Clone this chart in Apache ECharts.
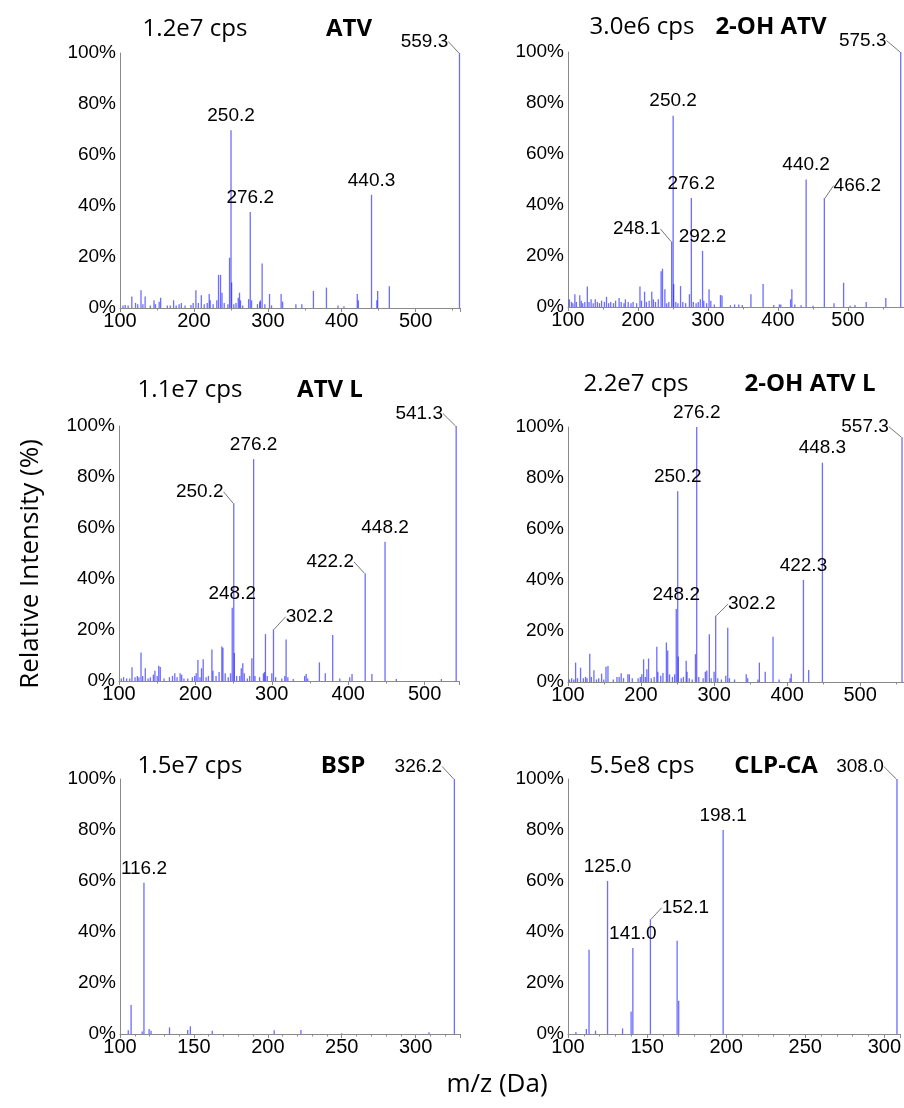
<!DOCTYPE html>
<html>
<head>
<meta charset="utf-8">
<script src="https://cdn.jsdelivr.net/npm/echarts@6/dist/echarts.min.js"></script>
<style>
  html, body { margin: 0; padding: 0; background: #fff; }
  #chart { width: 904px; height: 1108px; }
</style>
</head>
<body>
<div id="chart"></div>
<script>
// ====== peak lists [m/z, relative intensity %] ======
const atvPeaks = [[104,1],[107,1.2],[111,1],[116,4.5],[121,2],[124,1.5],[128.4,7],[131,1.5],[134,4.5],[141,1],[146,3],[148,1.5],[153,2.5],[155,4],[164,1],[168,1],[172.5,3],[176,1],[180,1.5],[183,2],[188,1],[196,1.2],[199,2],[202.7,7],[206,2],[210,5],[214,1.5],[218,2],[220.7,5.5],[222,3],[226,1.5],[231,3],[233.3,13],[236,13],[238,6],[241,2],[246,1.5],[248.2,19.7],[250.2,69.7],[251,10],[254,1.5],[257,2],[260,4],[261.7,6],[263,3],[266,1],[274,3.5],[276.2,37.6],[278,3],[286,1.5],[289,2.5],[290,3],[292.3,17.5],[296,1.5],[302.3,5.5],[305,1],[318,5.5],[320,2.5],[338,1.5],[346,1.5],[361.7,6.7],[379.3,8],[395,1],[403,0.7],[421,5.5],[422.5,3],[440.3,44.4],[447.5,3],[448.6,6.7],[464.4,8.5],[559.3,100]];
const ohAtvPeaks = [[102,3],[105,2],[107,1.5],[109.8,5],[112,2],[116.8,4.6],[119,2.5],[121,1.5],[124,2],[127.6,8],[130,2],[133,3],[136,1.5],[139,3],[142,2],[145,1.5],[148,2.5],[152,2],[155,4],[158,1.5],[161,2],[165,1.5],[168,2.5],[173,3.5],[176,2],[180,1.5],[182,3],[186,2],[190,1.5],[193,2],[198,1.5],[202.8,8],[205,2.5],[209.4,6],[212,2],[216,2.5],[219.7,6],[222,3],[225,2],[229,3],[233,14],[235,15],[238.4,7],[241,1.5],[244,2],[248.1,25.7],[250.2,75],[251,9],[254,2],[257,1.5],[260.8,8.2],[264,2],[268,1.5],[273.5,5],[276.2,42.7],[279,2],[283,1.5],[286,2],[289,3],[292.2,22],[294,2.5],[298,1.5],[301.5,7],[304,2.5],[309,1],[317.8,4.7],[320,4.5],[332,0.7],[338,1],[344,1],[349,0.8],[361.3,5],[378.7,9],[394,0.8],[402,1],[404,1],[418,3],[419.8,7],[424,1],[433,0.7],[440.2,50],[450,0.5],[466.2,42.7],[480,1.5],[493.7,9.5],[503,0.5],[510,0.8],[526,2],[554,3.5],[575.3,100]];
const atvLPeaks = [[103,1],[106,1.5],[110,1],[114,1],[117,5.4],[121,1.5],[124,2],[126,1.5],[128.8,11.2],[131,2],[134.4,5],[138,1],[141,1.5],[145,2.5],[147,4],[150,2],[152,6],[154,5.5],[159,1],[166,1.5],[170,2],[173,3],[176,1.5],[180,3],[182,2.5],[185,1],[190,1],[196,1.5],[199,2],[201,3],[203.3,8.2],[206,1.5],[208,5],[210.2,8.5],[214,1.5],[217,2],[221.6,12.4],[223,4],[227,2],[231,3.5],[234.6,13.5],[236,13],[239,3],[243,1.5],[246,3],[248.2,28.7],[250.2,69.7],[251,11],[254,2],[258,2],[260,5],[262,7],[264,3],[268,1],[271,2],[273.9,8.9],[276.2,87],[278,2],[284,1.5],[289,3],[290.5,3.5],[291.7,18.4],[294,2],[300,3],[302.2,20.3],[305,1.5],[313,1],[317,2],[318.7,16.3],[321,1.5],[328,0.8],[343,2],[345,2.7],[347,1],[362.3,7.3],[370,3],[379.7,18],[389,1],[402,1.5],[405,2.7],[422.2,42.2],[431,2.7],[448.2,54.6],[463,0.8],[522,0.8],[541.3,100]];
const ohAtvLPeaks = [[102,1],[105,1.5],[108,1],[110.4,7.6],[113,1.5],[117.2,5.6],[121,1.5],[124,2],[126,1.5],[129.8,11.1],[132,2],[135.5,4.6],[139,1],[142,1.5],[146,3.3],[149,1],[152,6],[154.7,6.3],[162,1],[167,2],[170,2],[172.8,3.4],[176,1.5],[182,3],[184,3],[188,1.5],[196,1.5],[199,2],[201,3],[203.5,8.9],[206,2],[208,5],[210.3,9.2],[214,1.5],[218,2],[221.6,13.8],[223,4],[227,2.5],[230,3.5],[234.7,15.5],[236.5,12.4],[239,3],[243,2],[246,3],[248.2,28.6],[250.2,74.8],[251,10],[255,1.5],[258,2],[261.8,8.3],[263,4],[266,1.5],[270,1],[274.5,10.9],[276.2,100],[279,2],[285,1.5],[288,4],[290,4.5],[293.5,18.7],[296,1.5],[300,4],[302.2,26],[305,1.5],[310,1],[316,2.5],[318.7,21.3],[321,1.5],[328,1],[344,3],[346,1.5],[360,1],[362,7.6],[370,4],[380.7,17.7],[389,1],[404,1.5],[405.6,3.2],[422.3,40],[429.5,4.7],[448.3,86],[557.3,96]];
const bspPeaks = [[105.6,1.5],[107.5,11.4],[115,1],[116.2,59.3],[119.7,2],[121,1.3],[133.5,2.6],[145.8,1.6],[147.6,3],[162.4,1.3],[204.3,1.5],[222.4,1.6],[250,0.3],[309,0.7],[326.2,100]];
const clpPeaks = [[105,0.8],[111.6,2],[113.3,33],[117.4,1.3],[125,60],[134.5,2.2],[139.9,8.8],[141,33.7],[152.1,45],[169,36.6],[170,13],[198.1,80],[308,100]];

// annotated m/z values per panel
const atvLabels = [250.2, 276.2, 440.3, 559.3];
const ohAtvLabels = [248.1, 250.2, 276.2, 292.2, 440.2, 466.2, 575.3];
const atvLLabels = [248.2, 250.2, 276.2, 302.2, 422.2, 448.2, 541.3];
const ohAtvLLabels = [248.2, 250.2, 276.2, 302.2, 422.3, 448.3, 557.3];
const bspLabels = [116.2, 326.2];
const clpLabels = [125.0, 141.0, 152.1, 198.1, 308.0];

const names = ["ATV", "2-OH ATV", "ATV L", "2-OH ATV L", "BSP", "CLP-CA"];
const cpsTexts = ["1.2e7 cps", "3.0e6 cps", "1.1e7 cps", "2.2e7 cps", "1.5e7 cps", "5.5e8 cps"];
const xMax = [560, 580, 545, 560, 330, 310];
const xStep = [100, 100, 100, 100, 50, 50];
const yTicks = [0, 20, 40, 60, 80, 100];

const peakSets = [atvPeaks, ohAtvPeaks, atvLPeaks, ohAtvLPeaks, bspPeaks, clpPeaks];
const labelSets = [atvLabels, ohAtvLabels, atvLLabels, ohAtvLLabels, bspLabels, clpLabels];

// ====== layout ======
const gridPos = [
  { left: 120, top: 53 }, { left: 568, top: 52 },
  { left: 119, top: 426 }, { left: 568, top: 427 },
  { left: 120, top: 779 }, { left: 568, top: 779 },
];
// labels pulled aside with a leader line: [panel, m/z] -> offset
const leaderOffsets = {
  "0_559.3": [-35, 3],
  "1_575.3": [-38, 3], "1_248.1": [-35, 2], "1_466.2": [33, 2],
  "2_541.3": [-37, 2], "2_250.2": [-34, 3], "2_302.2": [36, 2], "2_422.2": [-35, 3],
  "3_557.3": [-37, 4], "3_302.2": [36, 3],
  "4_326.2": [-36, 2],
  "5_308.0": [-37, 2], "5_152.1": [35, 3],
};

const numFont = "'Liberation Sans', Arial, sans-serif";
const txtFont = "'Open Sans', 'Noto Sans', sans-serif";
const axisGray = "#8a8a8a";

const grids = [], xAxes = [], yAxes = [], series = [], graphics = [];

gridPos.forEach((g, i) => {
  grids.push({ left: g.left, top: g.top, width: 340, height: 255 });
  xAxes.push({
    type: "value", gridIndex: i, min: 100, max: xMax[i], interval: xStep[i],
    axisLine: { show: true, lineStyle: { color: axisGray, width: 1 } },
    axisTick: { show: true, length: 4, lineStyle: { color: axisGray } },
    minorTick: { show: true, splitNumber: i < 4 ? 2 : 5, length: 2.5, lineStyle: { color: axisGray } },
    splitLine: { show: false },
    axisLabel: { color: "#000", fontSize: 20, fontFamily: numFont, margin: 3, showMaxLabel: false },
  });
  yAxes.push({
    type: "value", gridIndex: i, min: 0, max: 100, interval: 20,
    axisLine: { show: true, lineStyle: { color: axisGray, width: 1 } },
    axisTick: { show: false },
    splitLine: { show: false },
    axisLabel: { color: "#000", fontSize: 19, fontFamily: numFont, margin: 4, formatter: "{value}%" },
  });

  const labels = labelSets[i];
  series.push({
    type: "bar", xAxisIndex: i, yAxisIndex: i,
    barWidth: 1.3,
    itemStyle: { color: "rgba(20,20,255,0.62)" },
    emphasis: { disabled: true },
    animation: false,
    data: peakSets[i].map(([mz, v]) => {
      const item = { value: [mz, v] };
      if (labels.some((l) => Math.abs(l - mz) < 0.01)) {
        const key = i + "_" + mz.toFixed(1);
        item.label = {
          show: true, position: "top", distance: 5,
          formatter: mz.toFixed(1),
          color: "#000", fontSize: 19, fontFamily: numFont,
        };
        if (leaderOffsets[key]) {
          item.labelLine = { show: true, lineStyle: { color: "#777", width: 1 } };
        }
      }
      return item;
    }),
    labelLayout: (params) => {
      const mz = peakSets[i][params.dataIndex][0];
      const off = leaderOffsets[i + "_" + mz.toFixed(1)];
      return off ? { dx: off[0], dy: off[1] } : {};
    },
  });
});

// panel headers: intensity and compound name
const headerPos = [
  [195, 29, 349, 29], [642, 27, 771, 27],
  [190, 390, 330, 390], [636, 384, 810, 384],
  [190, 766, 343, 766], [642, 766, 776, 766],
];
headerPos.forEach((p, i) => {
  graphics.push({
    type: "text", x: p[0], y: p[1],
    style: { text: cpsTexts[i], font: "24px " + txtFont, fill: "#000", align: "center", verticalAlign: "middle", textAlign: "center", textVerticalAlign: "middle" },
  });
  graphics.push({
    type: "text", x: p[2], y: p[3],
    style: { text: names[i], font: "bold 24px " + txtFont, fill: "#000", align: "center", verticalAlign: "middle", textAlign: "center", textVerticalAlign: "middle" },
  });
});
graphics.push({
  type: "text", x: 31, y: 564, rotation: Math.PI / 2,
  style: { text: "Relative Intensity (%)", font: "26px " + txtFont, fill: "#000", align: "center", verticalAlign: "middle", textAlign: "center", textVerticalAlign: "middle" },
});
graphics.push({
  type: "text", x: 497, y: 1085,
  style: { text: "m/z (Da)", font: "26px " + txtFont, fill: "#000", align: "center", verticalAlign: "middle", textAlign: "center", textVerticalAlign: "middle" },
});

const chart = echarts.init(document.getElementById("chart"));
chart.setOption({
  animation: false,
  backgroundColor: "#fff",
  grid: grids,
  xAxis: xAxes,
  yAxis: yAxes,
  series: series,
  graphic: graphics,
});
</script>
</body>
</html>
